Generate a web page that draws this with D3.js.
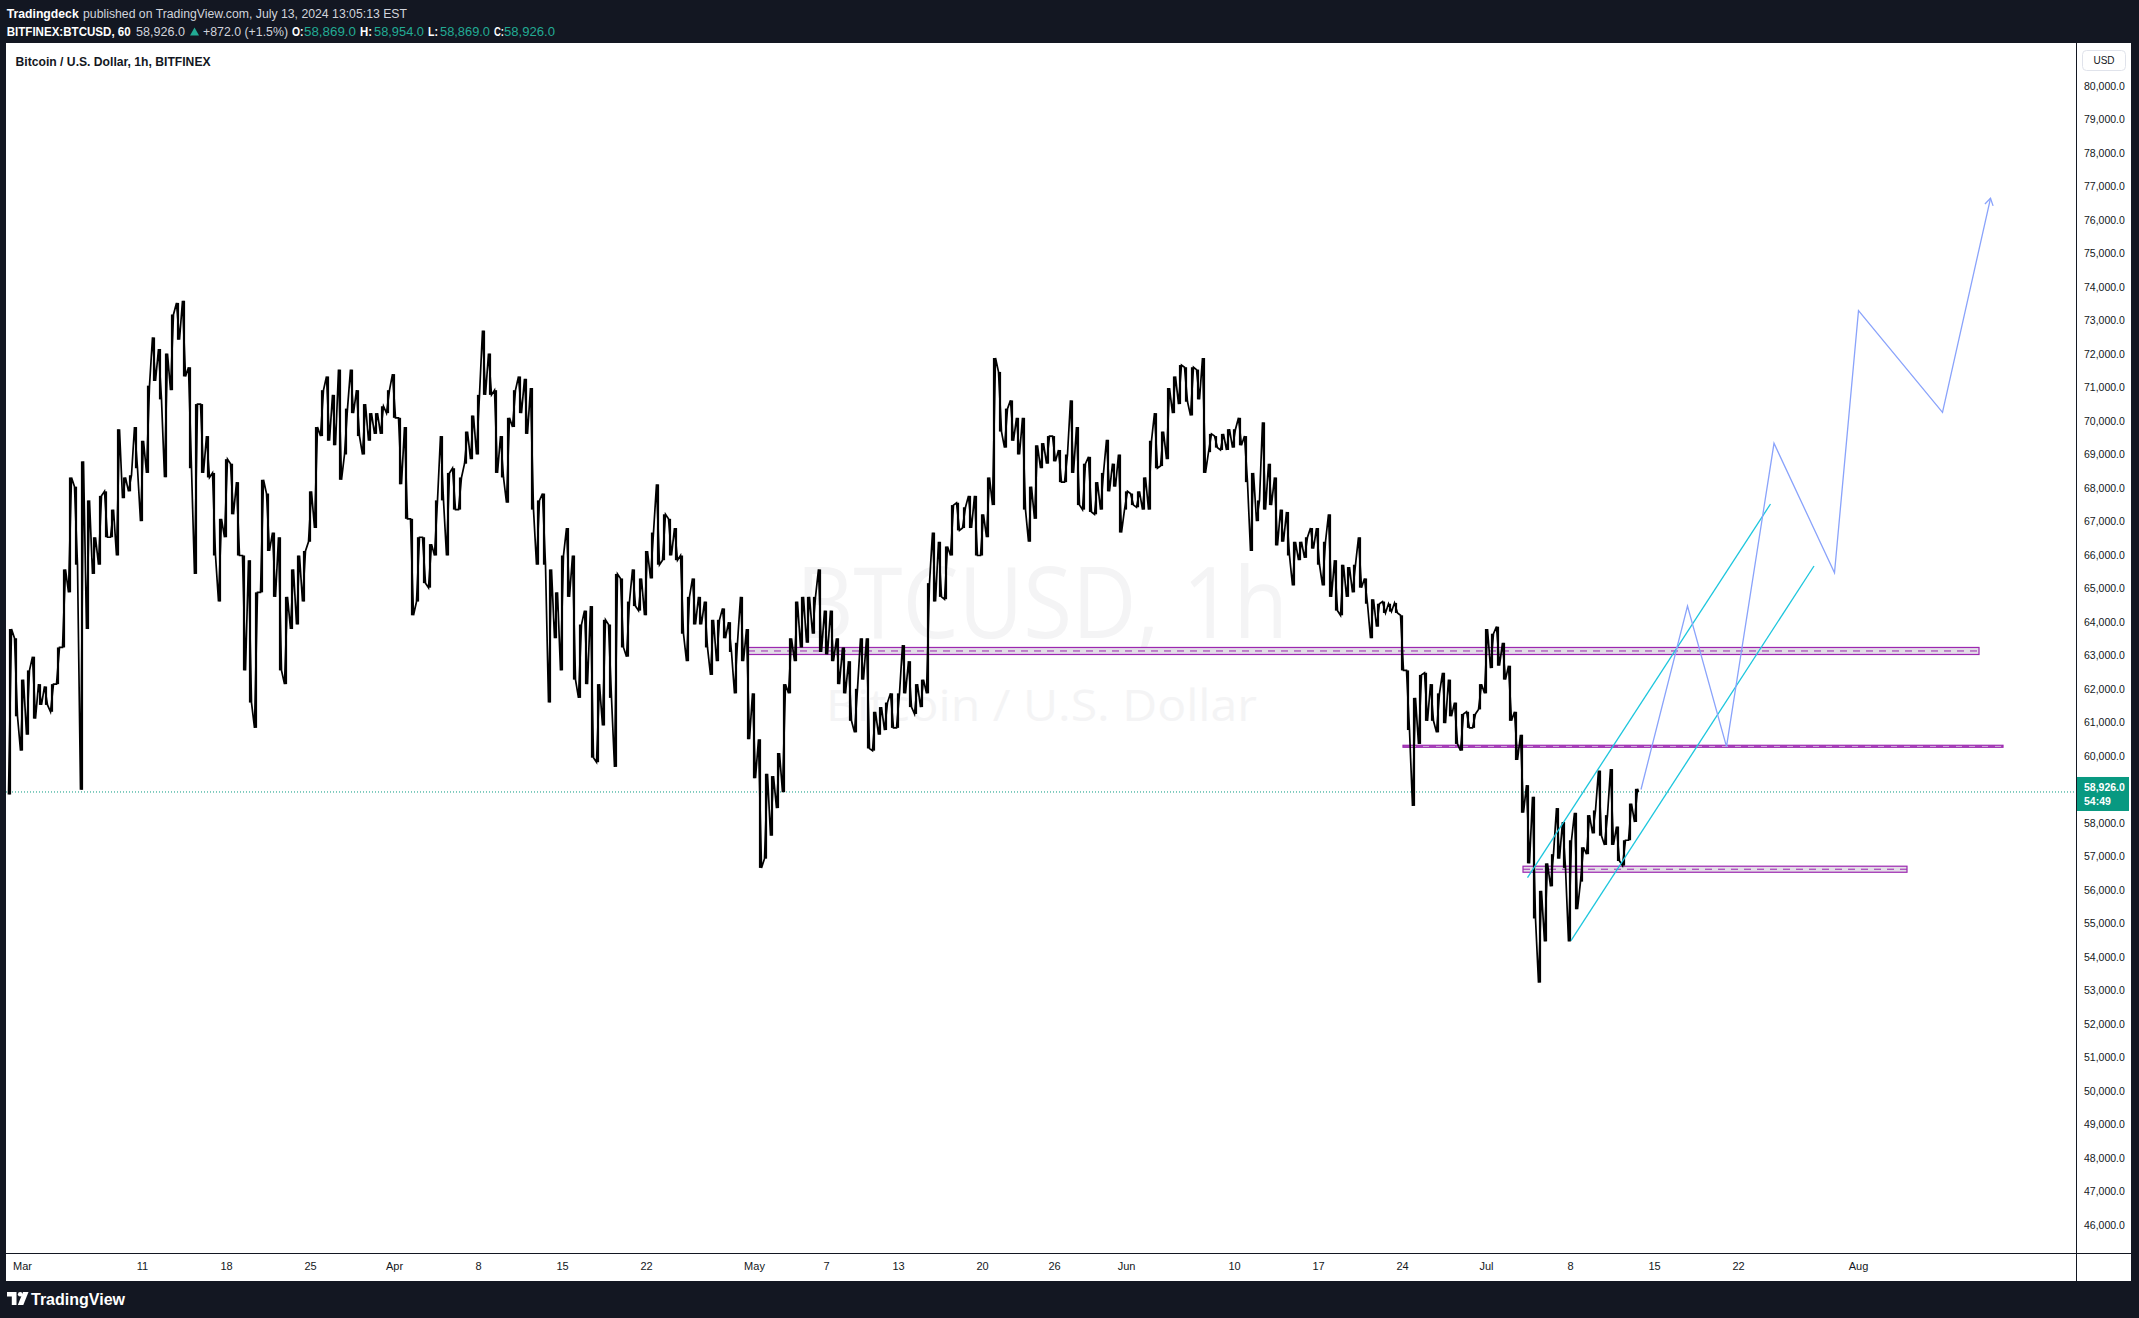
<!DOCTYPE html>
<html><head><meta charset="utf-8">
<script src="https://cdn.jsdelivr.net/npm/d3@7"></script>
<style>
html,body{margin:0;padding:0;background:#131722;overflow:hidden;}
svg{display:block;font-family:"Liberation Sans",Arial,sans-serif;}
</style></head>
<body>
<svg id="c" width="2139" height="1318"></svg>
<script>
// ---------- DATA ----------
const barStart = "2024-02-29T00:00:00Z";   // first 12h bar
const barStepHours = 12;
const barHigh = [63790,63515,62280,62555,62965,62145,62075,62145,63240,65570,68315,68040,68795,67630,66530,67765,67900,67355,69755,68315,
68380,69820,69410,71055,72495,72150,72015,73180,73525,73590,71605,70505,70505,69550,68450,67080,68860,68725,68175,65985,
65845,64885,68245,67835,66670,66530,64750,65570,65985,66120,67900,69820,70920,71330,70780,71535,70370,71535,70920,70505,
70235,70235,70440,70920,71400,70095,69820,67080,66530,66530,66325,67630,69550,68450,68590,68315,69685,70165,70780,72700,
72015,70920,69550,70095,70920,71330,71260,70985,67630,67835,65570,64885,65985,66805,65985,63925,64340,64475,62145,64065,
63925,65435,65300,64610,65570,65300,66120,66670,68110,67215,67080,66805,65985,64750,65300,64750,64610,64065,64065,64405,
63995,63380,64750,63790,61870,60500,59470,59400,60090,62145,63515,64610,64750,64750,64750,65570,64340,64340,63515,63240,
62830,62005,63515,63515,61320,61460,61595,61870,61870,63310,62830,62145,62280,65160,66670,66395,66255,67490,67560,67425,
67765,67765,67215,68315,71880,71465,70370,70615,70095,70095,68040,69275,69340,69550,69550,69135,69000,70615,69820,68725,
68930,68175,68450,69440,68725,69000,67900,67835,67900,68315,69410,70235,69685,70985,71330,71670,71605,71605,71535,71880,
69615,69550,69615,69755,69755,70095,69550,68450,67630,69960,68725,68315,67355,67285,66395,66395,66530,66805,66805,66395,
67215,65845,65710,65640,65710,66530,65300,64680,64545,64610,64545,64570,64200,62555,61735,62420,62485,62145,61870,62485,
62280,61595,61255,61320,61255,62145,63790,63650,63860,63380,62695,61320,60635,59130,58785,55975,56795,57070,58445,58030,
57485,58305,57275,58235,58375,59565,58235,59610,57895,57485,58580,59020];
const barLow = [58850,61185,60160,60635,61115,61525,61525,61320,62145,63240,64885,65710,58990,63790,65435,65710,66530,66530,65985,67695,
67900,68590,67010,68450,71195,70645,68320,70920,72425,71330,68590,65435,68450,68315,65985,64610,66530,67215,65985,62555,
61595,60840,64885,66120,64750,62555,62145,63790,63925,64610,66395,66805,69550,69410,69275,68245,69000,70235,69550,69000,
69410,69615,69615,70235,70095,68110,67080,64200,64610,65160,65025,65985,67630,65985,67355,67355,68725,68860,69000,70780,
70780,68450,68315,67560,69820,70235,69615,67355,65710,65710,61595,63515,62555,64750,62280,61735,62145,59950,59815,60910,
61735,59675,63240,62965,64475,64340,64200,65300,65710,65845,65985,65845,63650,62830,63925,63925,63240,62420,62830,63515,
63105,61870,62830,60500,59335,56660,56935,57620,58445,58920,61870,62830,63240,63380,63650,63105,63035,62830,62145,61870,
61050,60705,62280,60225,60160,60635,60775,60840,60840,61870,61460,61255,61460,61870,64610,64750,64680,65985,66735,66805,
66805,65985,65985,66530,67490,69685,69205,69410,69000,67355,66395,67080,68590,68725,68795,68175,68175,68450,67490,67355,
67285,67215,67355,67900,68040,66670,67355,67490,67425,67355,67355,68590,68655,68860,70235,70505,70575,70165,70645,68450,
69070,69205,69135,69135,69205,69275,68175,66120,67010,67355,67490,66285,66395,65985,65090,65845,65915,66190,65710,65090,
64750,64340,64200,64750,64885,65025,64545,63515,63860,64270,64310,64270,62555,60775,58510,60360,61050,61050,60705,60980,
61185,60360,60160,60840,60840,61390,61870,62625,62695,62280,61050,59880,58305,56795,55150,53235,54465,56110,56935,56660,
54465,55425,56250,57070,57690,57620,57345,57345,56865,56730,57485,58030];

const lastPrice = 58926;
const priceTicks = d3.range(46000, 80001, 1000);
const timeTickDates = ["2024-03-01","2024-03-11","2024-03-18","2024-03-25","2024-04-01","2024-04-08","2024-04-15","2024-04-22",
  "2024-05-01","2024-05-07","2024-05-13","2024-05-20","2024-05-26","2024-06-01","2024-06-10","2024-06-17","2024-06-24",
  "2024-07-01","2024-07-08","2024-07-15","2024-07-22","2024-08-01"];
const timeTickLabels = ["Mar","11","18","25","Apr","8","15","22","May","7","13","20","26","Jun","10","17","24","Jul","8","15","22","Aug"];

// support / resistance zones
const zoneStart  = ["2024-04-30T12:00Z","2024-06-24T02:00Z","2024-07-04T02:00Z"];
const zoneEnd    = ["2024-08-11T02:00Z","2024-08-13T02:00Z","2024-08-05T02:00Z"];
const zoneTop    = [63240, 60320, 56710];
const zoneBottom = [63030, 60260, 56530];

// rising channel
const channelStart      = ["2024-07-04T11:00Z","2024-07-08T02:00Z"];
const channelStartPrice = [56367, 54487];
const channelEnd        = ["2024-07-24T17:00Z","2024-07-28T08:00Z"];
const channelEndPrice   = [67522, 65672];

// projected path
const projTimes  = ["2024-07-13T22:00Z","2024-07-17T19:00Z","2024-07-21T01:00Z","2024-07-25T00:00Z","2024-07-30T01:00Z","2024-08-01T01:00Z","2024-08-08T01:00Z","2024-08-12T01:00Z"];
const projPrices = [59000, 64478, 60278, 69334, 65472, 73293, 70260, 76648];

// ---------- LAYOUT ----------
const W = 2139, H = 1318;
const panel = {x0: 6, x1: 2131, y0: 43, y1: 1281};
const plot  = {x0: 6, x1: 2076, y0: 43, y1: 1253};
const svg = d3.select("#c");

const x = d3.scaleUtc().domain([new Date("2024-03-01T00:00Z"), new Date("2024-08-01T00:00Z")]).range([22, 1858]);
const y = d3.scaleLinear().domain([46000, 80000]).range([1225, 86]);

svg.append("rect").attr("width", W).attr("height", H).attr("fill", "#131722");
svg.append("rect").attr("x", panel.x0).attr("y", panel.y0).attr("width", panel.x1 - panel.x0).attr("height", panel.y1 - panel.y0).attr("fill", "#ffffff");

// ---------- HEADER ----------
const hdr = svg.append("g").attr("font-size", 12.5);
function t(g, txt, xx, yy, len, fill, weight) {
  return g.append("text").attr("x", xx).attr("y", yy).attr("fill", fill).attr("font-weight", weight || 400)
    .attr("textLength", len).attr("lengthAdjust", "spacingAndGlyphs").text(txt);
}
t(hdr, "Tradingdeck", 6.7, 18, 72, "#ffffff", 700);
t(hdr, "published on TradingView.com, July 13, 2024 13:05:13 EST", 83, 18, 324, "#d1d4dc");
const teal = "#22ab94";
t(hdr, "BITFINEX:BTCUSD, 60", 6.7, 36, 124, "#ffffff", 700);
t(hdr, "58,926.0", 136, 36, 49, "#d1d4dc");
hdr.append("path").attr("d", "M190,35.5 L194.5,27.5 L199,35.5 Z").attr("fill", teal);
t(hdr, "+872.0 (+1.5%)", 203, 36, 85, "#d1d4dc");
t(hdr, "O:", 292, 36, 11.5, "#ffffff", 700);
t(hdr, "58,869.0", 304, 36, 52, teal);
t(hdr, "H:", 360, 36, 12, "#ffffff", 700);
t(hdr, "58,954.0", 374, 36, 50, teal);
t(hdr, "L:", 428, 36, 10, "#ffffff", 700);
t(hdr, "58,869.0", 440, 36, 50, teal);
t(hdr, "C:", 494, 36, 10, "#ffffff", 700);
t(hdr, "58,926.0", 504, 36, 51, teal);

// ---------- WATERMARK ----------
svg.append("text").attr("x", 796).attr("y", 638).attr("font-size", 99).attr("font-family", "'Open Sans',sans-serif")
  .attr("fill", "#f4f4f5").attr("textLength", 492).attr("lengthAdjust", "spacingAndGlyphs").text("BTCUSD, 1h");
svg.append("text").attr("x", 826).attr("y", 721).attr("font-size", 43).attr("font-family", "'Open Sans',sans-serif")
  .attr("fill", "#f4f4f5").attr("textLength", 431).attr("lengthAdjust", "spacingAndGlyphs").text("Bitcoin / U.S. Dollar");

// ---------- PLOT ----------
svg.append("clipPath").attr("id", "clip").append("rect")
  .attr("x", plot.x0).attr("y", plot.y0).attr("width", plot.x1 - plot.x0).attr("height", plot.y1 - plot.y0);
const g = svg.append("g").attr("clip-path", "url(#clip)");

// last price dotted line
g.append("line").attr("x1", plot.x0).attr("x2", plot.x1).attr("y1", y(lastPrice)).attr("y2", y(lastPrice))
  .attr("stroke", "#089981").attr("stroke-width", 1).attr("stroke-dasharray", "1,2");

// zones
zoneTop.forEach((top, i) => {
  const x0 = x(new Date(zoneStart[i])), x1 = x(new Date(zoneEnd[i]));
  g.append("rect").attr("x", x0).attr("y", y(top)).attr("width", x1 - x0).attr("height", y(zoneBottom[i]) - y(top))
    .attr("fill", "#e3dee7").attr("stroke", "#9c27b0").attr("stroke-width", 1.2);
  const ym = y((top + zoneBottom[i]) / 2);
  g.append("line").attr("x1", x0).attr("x2", x1).attr("y1", ym).attr("y2", ym)
    .attr("stroke", "#9c27b0").attr("stroke-width", 1).attr("stroke-dasharray", "7,6");
});

// price series (12h high/low bars + zig-zag path through them)
const t0 = new Date(barStart).getTime();
const bars = barHigh.map((h, i) => ({t: new Date(t0 + i * barStepHours * 3600e3), h, l: barLow[i]}));
const pts = [];
bars.forEach((b, i) => {
  const nxt = bars[i + 1];
  const up = nxt ? (nxt.h + nxt.l) > (b.h + b.l) : true;
  const xc = x(b.t);
  if (up) { pts.push([xc - 1.5, y(b.l)]); pts.push([xc + 1.5, y(b.h)]); }
  else    { pts.push([xc - 1.5, y(b.h)]); pts.push([xc + 1.5, y(b.l)]); }
});
pts.push([x(bars[bars.length - 1].t) + 2.5, y(lastPrice)]);
g.append("g").selectAll("rect").data(bars).join("rect")
  .attr("x", d => x(d.t) - 1.1).attr("width", 2.2)
  .attr("y", d => y(d.h)).attr("height", d => Math.max(1, y(d.l) - y(d.h)))
  .attr("fill", "#000");
g.append("path").attr("d", d3.line()(pts)).attr("fill", "none").attr("stroke", "#000").attr("stroke-width", 1.7)
  .attr("stroke-linejoin", "miter");

// channel
channelStart.forEach((s, i) => {
  g.append("line").attr("x1", x(new Date(s))).attr("y1", y(channelStartPrice[i]))
    .attr("x2", x(new Date(channelEnd[i]))).attr("y2", y(channelEndPrice[i]))
    .attr("stroke", "#1cc6dd").attr("stroke-width", 1.3);
});

// projection path
const proj = projTimes.map((tt, i) => [x(new Date(tt)), y(projPrices[i])]);
g.append("path").attr("d", d3.line()(proj)).attr("fill", "none").attr("stroke", "#8aa3fb").attr("stroke-width", 1.3);
{
  const [ax, ay] = proj[proj.length - 1], [bx, by] = proj[proj.length - 2];
  const ang = Math.atan2(ay - by, ax - bx), L = 8, spread = 0.55;
  const p1 = [ax - L * Math.cos(ang - spread), ay - L * Math.sin(ang - spread)];
  const p2 = [ax - L * Math.cos(ang + spread), ay - L * Math.sin(ang + spread)];
  g.append("path").attr("d", d3.line()([p1, [ax, ay], p2])).attr("fill", "none").attr("stroke", "#8aa3fb").attr("stroke-width", 1.3);
}

// ---------- AXES ----------
svg.append("line").attr("x1", plot.x1 + 0.5).attr("x2", plot.x1 + 0.5).attr("y1", panel.y0).attr("y2", panel.y1).attr("stroke", "#131722");
svg.append("line").attr("x1", panel.x0).attr("x2", panel.x1).attr("y1", plot.y1 + 0.5).attr("y2", plot.y1 + 0.5).attr("stroke", "#131722");

const xAxis = d3.axisBottom(x).tickValues(timeTickDates.map(d => new Date(d + "T00:00Z")))
  .tickFormat((d, i) => timeTickLabels[i]).tickSize(0).tickPadding(9);
const gx = svg.append("g").attr("transform", `translate(0,${plot.y1})`).call(xAxis);
gx.select(".domain").remove();
gx.selectAll("text").attr("font-size", 11).attr("fill", "#131722").attr("font-family", "'Liberation Sans',Arial,sans-serif");

const yAxis = d3.axisRight(y).tickValues(priceTicks).tickFormat(d3.format(",.1f")).tickSize(0).tickPadding(8);
const gy = svg.append("g").attr("transform", `translate(${plot.x1},0)`).call(yAxis);
gy.select(".domain").remove();
gy.selectAll("text").attr("font-size", 10.5).attr("fill", "#131722").attr("font-family", "'Liberation Sans',Arial,sans-serif");

// USD box
svg.append("rect").attr("x", 2082.5).attr("y", 50.5).attr("width", 43).attr("height", 20).attr("rx", 4)
  .attr("fill", "#fff").attr("stroke", "#e0e3eb");
svg.append("text").attr("x", 2104).attr("y", 64).attr("text-anchor", "middle").attr("font-size", 10).attr("fill", "#131722").text("USD");

// last price label
const ly = y(lastPrice);
svg.append("rect").attr("x", plot.x1 + 1).attr("y", ly - 15).attr("width", 52).attr("height", 34).attr("fill", "#089981");
svg.append("text").attr("x", 2084).attr("y", ly - 1).attr("font-size", 10.5).attr("font-weight", 700).attr("fill", "#fff")
  .text(d3.format(",.1f")(lastPrice));
svg.append("text").attr("x", 2084).attr("y", ly + 13).attr("font-size", 10.5).attr("font-weight", 700).attr("fill", "#fff").text("54:49");

// ---------- FOOTER LOGO ----------
const lg = svg.append("g").attr("transform", "translate(7,1292)").attr("fill", "#ffffff");
lg.append("path").attr("d", "M0,0 H9.5 V13 H4.8 V4.6 H0 Z");
lg.append("circle").attr("cx", 13.2).attr("cy", 2.3).attr("r", 2.3);
lg.append("path").attr("d", "M16,0 H21.5 L16.3,13 H10.8 Z");
svg.append("text").attr("x", 31).attr("y", 1305).attr("font-size", 16).attr("font-weight", 600).attr("fill", "#ffffff")
  .attr("textLength", 94).attr("lengthAdjust", "spacingAndGlyphs").text("TradingView");

// chart title
svg.append("text").attr("x", 15.6).attr("y", 66).attr("font-size", 12.5).attr("font-weight", 600).attr("fill", "#131722")
  .attr("textLength", 195).attr("lengthAdjust", "spacingAndGlyphs").text("Bitcoin / U.S. Dollar, 1h, BITFINEX");
</script>
</body></html>
